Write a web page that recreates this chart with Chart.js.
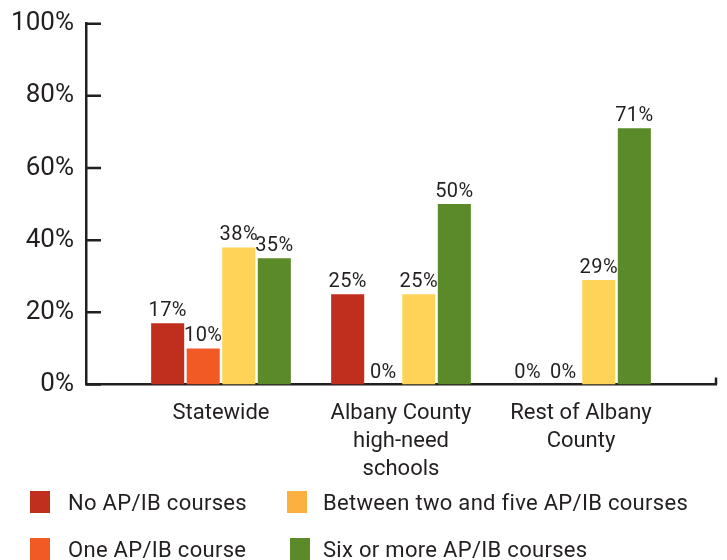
<!DOCTYPE html>
<html>
<head>
<meta charset="utf-8">
<script src="https://cdn.jsdelivr.net/npm/chart.js@4.4.1/dist/chart.umd.min.js"></script>
<style>
  html, body { margin: 0; padding: 0; background: #fff; }
  #wrap { position: relative; width: 727px; height: 560px; overflow: hidden; }
  #chart { position: absolute; left: 0; top: 0; }
  #legend { position: absolute; left: 0; top: 0; width: 727px; height: 560px; pointer-events: none; }
  .item { position: absolute; font: 22px Roboto, sans-serif; letter-spacing: 0.3px; color: #231f20; white-space: nowrap; line-height: 28px; }
  .box { position: absolute; width: 20px; height: 22px; }
</style>
</head>
<body>
<div id="wrap">
  <canvas id="chart" width="727" height="499"></canvas>
  <div id="legend"></div>
</div>
<script>
const FUENTE = 'Roboto, sans-serif';
const TINTA = '#231f20';

// datos
const categorias = [['Statewide'], ['Albany County', 'high-need', 'schools'], ['Rest of Albany', 'County']];
const series = ['No AP/IB courses', 'One AP/IB course', 'Between two and five AP/IB courses', 'Six or more AP/IB courses'];
const ningunCurso = [17, 25, 0];
const unCurso = [10, 0, 0];
const dosACinco = [38, 25, 29];
const seisOMas = [35, 50, 71];
const ticksY = [0, 20, 40, 60, 80, 100];

const coloresBarra = ['#c02f1d', '#f15a24', '#fed357', '#5b8a28'];
const coloresLeyenda = ['#c02f1d', '#f15a24', '#fbb040', '#5b8a28'];
const valores = [ningunCurso, unCurso, dosACinco, seisOMas];

const datasets = valores.map((vals, i) => ({
  label: series[i],
  data: vals.map((v, j) => ({ x: j, y: v })),
  backgroundColor: coloresBarra[i],
  borderWidth: 0,
  categoryPercentage: 0.79,
  barPercentage: 0.93
}));

// etiquetas de valor encima de las barras + marcas del eje
const etiquetas = {
  id: 'etiquetas',
  afterDatasetsDraw(chart) {
    const ctx = chart.ctx;
    ctx.save();
    ctx.letterSpacing = '0.4px';
    ctx.font = '20px ' + FUENTE;
    ctx.fillStyle = TINTA;
    ctx.textAlign = 'center';
    ctx.textBaseline = 'bottom';
    chart.data.datasets.forEach((ds, i) => {
      chart.getDatasetMeta(i).data.forEach((bar, j) => {
        ctx.fillText(valores[i][j] + '%', bar.x, bar.y - 2);
      });
    });
    ctx.restore();
  },
  afterDraw(chart) {
    const ctx = chart.ctx;
    const y = chart.scales.y;
    const area = chart.chartArea;
    ctx.save();
    ctx.strokeStyle = TINTA;
    ctx.lineWidth = 2.5;
    ctx.beginPath();
    ticksY.forEach(t => {
      const py = y.getPixelForValue(t);
      ctx.moveTo(area.left, py);
      ctx.lineTo(area.left + 15, py);
    });
    ctx.moveTo(area.right, area.bottom);
    ctx.lineTo(area.right, area.bottom - 7);
    ctx.stroke();
    ctx.restore();
  }
};

new Chart(document.getElementById('chart'), {
  type: 'bar',
  data: { datasets: datasets },
  options: {
    responsive: false,
    animation: false,
    layout: { padding: { top: 9, right: 11, left: 0, bottom: 0 } },
    plugins: { legend: { display: false }, tooltip: { enabled: false } },
    scales: {
      x: {
        type: 'linear',
        offset: false,
        min: -0.75,
        max: 2.75,
        grid: { display: false, drawTicks: false, offset: false },
        border: { display: true, color: TINTA, width: 2.5 },
        afterBuildTicks: s => { s.ticks = categorias.map((c, i) => ({ value: i })); },
        ticks: {
          autoSkip: false,
          maxRotation: 0,
          padding: 15,
          color: TINTA,
          font: { family: FUENTE, size: 22, lineHeight: 1.28 },
          callback: v => categorias[v]
        }
      },
      y: {
        min: 0,
        max: 100,
        grid: { display: false, drawTicks: false },
        border: { display: true, color: TINTA, width: 2.5 },
        afterFit: s => { s.width = 86; },
        afterBuildTicks: s => { s.ticks = ticksY.map(v => ({ value: v })); },
        ticks: {
          padding: 12,
          color: TINTA,
          font: { family: FUENTE, size: 26, lineHeight: 0.9 },
          callback: v => v + '%'
        }
      }
    }
  },
  plugins: [etiquetas]
});

// leyenda en dos columnas
const leyenda = document.getElementById('legend');
const orden = [0, 2, 1, 3];
const posiciones = [[30, 68, 491], [287, 323, 491], [30, 68, 538], [290, 323, 538]];
orden.forEach((s, k) => {
  const [bx, tx, ty] = posiciones[k];
  const caja = document.createElement('div');
  caja.className = 'box';
  caja.style.left = bx + 'px';
  caja.style.top = ty + 'px';
  caja.style.background = coloresLeyenda[s];
  leyenda.appendChild(caja);
  const texto = document.createElement('div');
  texto.className = 'item';
  texto.style.left = tx + 'px';
  texto.style.top = (ty - 2) + 'px';
  texto.textContent = series[s];
  leyenda.appendChild(texto);
});
</script>
</body>
</html>
